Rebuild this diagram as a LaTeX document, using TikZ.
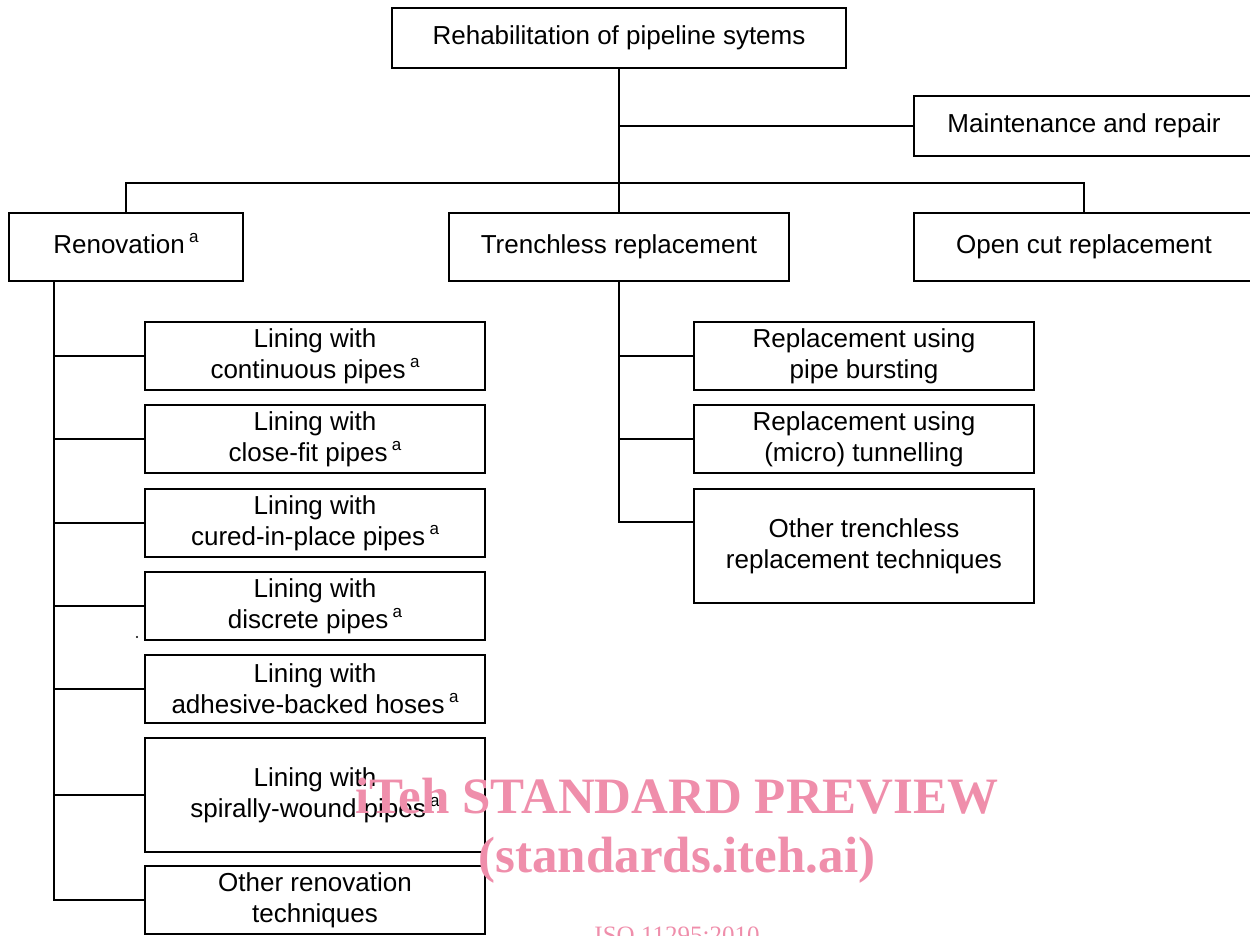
\documentclass[tikz,border=0pt]{standalone}
\usepackage{fontspec}
\setmainfont{Liberation Sans}
\newfontfamily\wmfont{Liberation Serif}
\usetikzlibrary{calc}
\definecolor{wmpink}{RGB}{239,142,171}
\newcommand\supa{\,\raisebox{11pt}[0pt][0pt]{\fontsize{17}{17}\selectfont a}}
\begin{document}
\begin{tikzpicture}[x=1pt,y=-1pt,
  box/.style={draw, line width=1.6pt, align=center, inner sep=0pt, minimum width=340, minimum height=68, font=\fontsize{26}{31}\selectfont},
  conn/.style={line width=1.6pt},
  wm/.style={text=wmpink, anchor=base, inner sep=0pt}]
\useasboundingbox (0,0) rectangle (1250,936);
\clip (0,0) rectangle (1250,936);
% top level
\node[box, minimum width=454, minimum height=60] (top) at (619,38) {Rehabilitation of pipeline sytems};
\node[box, minimum height=60] (mt) at (1084,126) {Maintenance and repair};
\node[box, minimum width=234] (rn) at (126,247) {Renovation\vphantom{p}\supa};
\node[box] (tr) at (619,247) {Trenchless replacement};
\node[box] (oc) at (1084,247) {Open cut replacement};
% renovation children
\node[box] (l1) at (315,356) {Lining with\\continuous pipes\supa};
\node[box] (l2) at (315,439) {Lining with\\close-fit pipes\supa};
\node[box] (l3) at (315,523) {Lining with\\cured-in-place pipes\supa};
\node[box] (l4) at (315,606) {Lining with\\discrete pipes\supa};
\node[box] (l5) at (315,689) {Lining with\\adhesive-backed hoses\supa};
\node[box, minimum height=114] (l6) at (315,795) {Lining with\\spirally-wound pipes\supa};
\node[box] (l7) at (315,900) {Other renovation\\techniques};
% trenchless children
\node[box] (t1) at (864,356) {Replacement using\\pipe bursting};
\node[box] (t2) at (864,439) {Replacement using\\(micro) tunnelling};
\node[box, minimum height=114] (t3) at (864,546) {Other trenchless\\replacement techniques};
% connectors
\coordinate (bus) at (619,183);
\coordinate (rv) at (54,0);
\coordinate (t3c) at ($(t3.north west)+(0,34)$);
\draw[conn] (top.south) -- (tr.north);
\draw[conn] (top.south |- mt.west) -- (mt.west);
\draw[conn] (rn.north) |- (bus) -| (oc.north);
\draw[conn] (rv |- rn.south) |- (l7.west);
\foreach \i in {1,...,6} {\draw[conn] (rv |- l\i.west) -- (l\i.west);}
\draw[conn] (tr.south) |- (t3c);
\draw[conn] (tr.south |- t1.west) -- (t1.west);
\draw[conn] (tr.south |- t2.west) -- (t2.west);
\fill (137,637) circle (1.2);
% watermark
\node[wm, font=\wmfont\bfseries\fontsize{51}{60}\selectfont] (wm1) at (677,813) {iTeh STANDARD PREVIEW};
\node[wm, font=\wmfont\bfseries\fontsize{51}{60}\selectfont] (wm2) at (677,872) {(standards.iteh.ai)};
\node[wm, font=\wmfont\fontsize{25}{30}\selectfont] (wm3) at (677,943) {ISO 11295:2010};
\end{tikzpicture}
\end{document}
